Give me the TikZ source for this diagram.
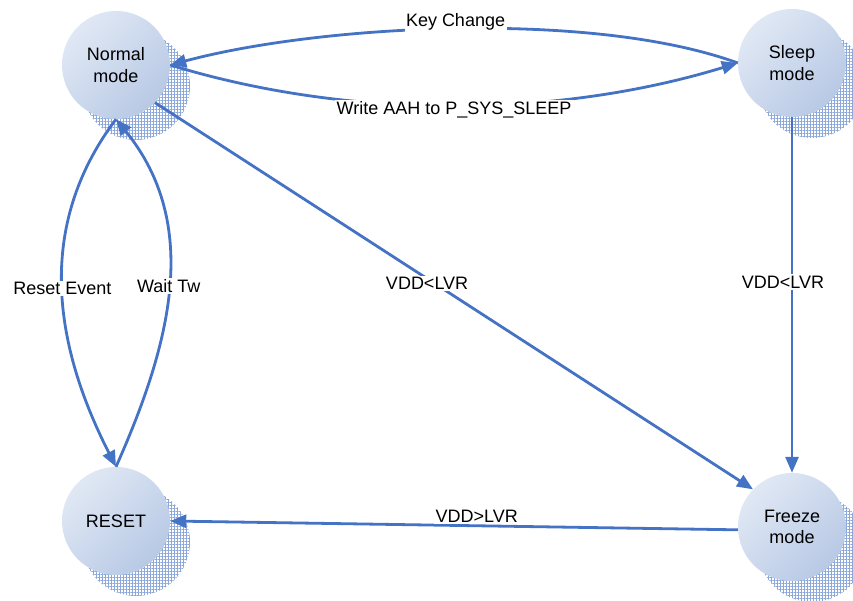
\documentclass[tikz,border=0pt]{standalone}
\usepackage{fontspec}
\setmainfont{Liberation Sans}
\usetikzlibrary{arrows.meta,patterns.meta,backgrounds}
\definecolor{edgeblue}{RGB}{68,114,196}
\definecolor{discA}{RGB}{224,232,244}
\definecolor{discB}{RGB}{184,201,229}
\definecolor{hatchblue}{RGB}{140,168,218}

\begin{document}
\begin{tikzpicture}[x=1pt,y=1pt,
  state/.style={circle, minimum size=108pt, inner sep=0pt,
    top color=discA, bottom color=discB, shading angle=45,
    align=center, font=\fontsize{18}{21.5}\selectfont},
  shade disc/.style={pattern={Hatch[distance=3pt,line width=0.8pt]},
    pattern color=hatchblue},
  link/.style={draw=edgeblue, line width=2.8pt,
    -{Triangle[length=16pt,width=13pt]}},
  lbl/.style={fill=white, inner sep=1.5pt, font=\fontsize{18}{21.5}\selectfont}]
\useasboundingbox (0,0) rectangle (853,601);

% states
\node[state] (N) at (116,536) {Normal\\mode};
\node[state] (S) at (792,538) {Sleep\\mode};
\node[state] (R) at (116,80)  {RESET};
\node[state] (F) at (792,74)  {Freeze\\mode};

% hatched offset discs behind each state
\begin{scope}[on background layer]
  \foreach \n in {N,S,R,F}
    \fill[shade disc] ([shift={(20,-21)}]\n.center) circle (54);
\end{scope}

% transitions
\draw[link] (S.west) to[out=160,in=15,looseness=0.7]
  node[lbl,pos=0.5,yshift=7pt] {Key Change} (N.east);
\draw[link] (N.east) to[out=-17,in=197,looseness=0.85]
  node[lbl,pos=0.5,yshift=-4pt] {Write AAH to P\_SYS\_SLEEP} (S.west);
\draw[link] (N.-44) -- node[lbl,pos=0.455,yshift=-5pt] {VDD<LVR} (F.136);
\draw[link] (S.south) -- node[lbl,pos=0.463,xshift=-9pt] {VDD<LVR} (F.north);
\draw[link] (F.183) -- node[lbl,pos=0.46,yshift=9pt] {VDD>LVR} (R.east);
\draw[link] (N.south) to[out=233,in=117]
  node[lbl,pos=0.5] {Reset Event} (R.north);
\draw[link] (R.north) to[out=66,in=309]
  node[lbl,pos=0.5] {Wait Tw} (N.south);
\end{tikzpicture}
\end{document}
